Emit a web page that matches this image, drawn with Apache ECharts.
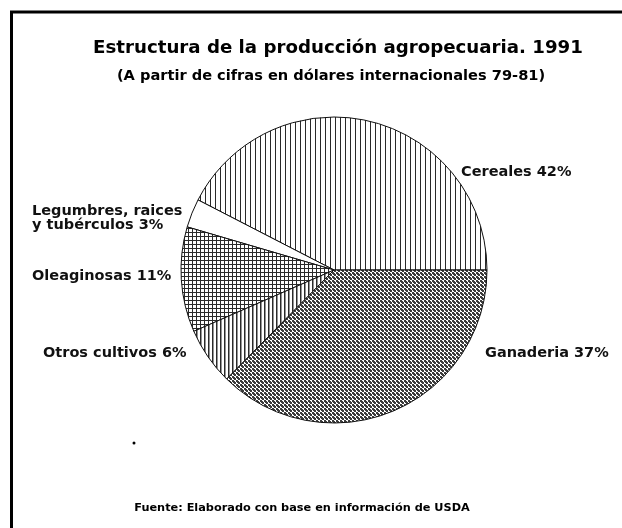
<!DOCTYPE html>
<html>
<head>
<meta charset="utf-8">
<script src="https://cdn.jsdelivr.net/npm/echarts@6/dist/echarts.min.js"></script>
<style>
  html, body { margin: 0; padding: 0; background: #fff; }
  #chart { width: 622px; height: 528px; }
</style>
</head>
<body>
<div id="chart"></div>
<script>
// datos (porcentajes)
var categories = ['Cereales', 'Legumbres, raices y tubérculos', 'Oleaginosas', 'Otros cultivos', 'Ganadería'];
var labelNames = ['Cereales', 'Legumbres, raices\ny tubérculos', 'Oleaginosas', 'Otros cultivos', 'Ganaderia'];
var shares = [42, 3, 11, 6, 37];

// tramas tipo impresion
function makePattern(size, draw) {
  var c = document.createElement('canvas');
  c.width = size; c.height = size;
  var ctx = c.getContext('2d');
  ctx.fillStyle = '#fff';
  ctx.fillRect(0, 0, size, size);
  ctx.fillStyle = '#2a2a2a';
  draw(ctx);
  return { image: c, repeat: 'repeat' };
}
var patterns = [
  makePattern(5, function(ctx) { ctx.fillRect(0, 0, 1, 5); }),
  '#ffffff',
  makePattern(4, function(ctx) { ctx.fillRect(0, 0, 1, 4); ctx.fillRect(0, 0, 4, 1); }),
  makePattern(4, function(ctx) { ctx.fillRect(0, 0, 1.5, 4); }),
  makePattern(4, function(ctx) {
    ctx.fillStyle = '#3c3c3c';
    ctx.fillRect(0, 0, 2, 2);
    ctx.fillRect(2, 2, 2, 2);
    ctx.fillRect(1, 1, 2, 2);
    ctx.fillRect(3, 3, 1, 1);
  })
];

// posiciones de las etiquetas
var labelPos = [
  { x: 461, y: 172 },
  { x: 32, y: 218 },
  { x: 32, y: 276 },
  { x: 43, y: 353 },
  { x: 485, y: 353 }
];

var chart = echarts.init(document.getElementById('chart'));

var pieData = [];
for (var i = 0; i < categories.length; i++) {
  pieData.push({
    name: categories[i],
    value: shares[i],
    itemStyle: { color: patterns[i] },
    label: { formatter: labelNames[i] + ' ' + shares[i] + '%' }
  });
}

chart.setOption({
  animation: false,
  backgroundColor: '#fff',
  title: [{
    text: 'Estructura de la producción agropecuaria. 1991',
    left: 333, top: 34, textAlign: 'center',
    textStyle: { fontFamily: 'DejaVu Sans', fontWeight: 'bold', fontSize: 18.2, color: '#000' }
  }, {
    text: '(A partir de cifras en dólares internacionales 79-81)',
    left: 326, top: 64, textAlign: 'center',
    textStyle: { fontFamily: 'DejaVu Sans', fontWeight: 'bold', fontSize: 14.6, color: '#000' }
  }, {
    text: 'Fuente: Elaborado con base en información de USDA',
    left: 297, top: 498, textAlign: 'center',
    textStyle: { fontFamily: 'DejaVu Sans', fontWeight: 'bold', fontSize: 11.3, color: '#000' }
  }],
  graphic: [{
    type: 'polyline',
    shape: { points: [[11.5, 528], [11.5, 12], [622, 12]] },
    style: { stroke: '#000', lineWidth: 3, fill: null }
  }, {
    type: 'circle',
    shape: { cx: 134, cy: 443, r: 1.5 },
    style: { fill: '#000' }
  }],
  series: [{
    type: 'pie',
    center: [334, 270],
    radius: 153,
    startAngle: 0,
    clockwise: false,
    silent: true,
    data: pieData,
    itemStyle: { borderColor: '#111', borderWidth: 1 },
    label: {
      show: true,
      position: 'outside',
      overflow: 'none',
      fontFamily: 'DejaVu Sans',
      fontWeight: 'bold',
      fontSize: 14.5,
      lineHeight: 14,
      color: '#111'
    },
    labelLine: { show: false },
    labelLayout: function(params) {
      var p = labelPos[params.dataIndex];
      return { x: p.x, y: p.y, align: 'left', verticalAlign: 'middle' };
    }
  }]
});
</script>
</body>
</html>
